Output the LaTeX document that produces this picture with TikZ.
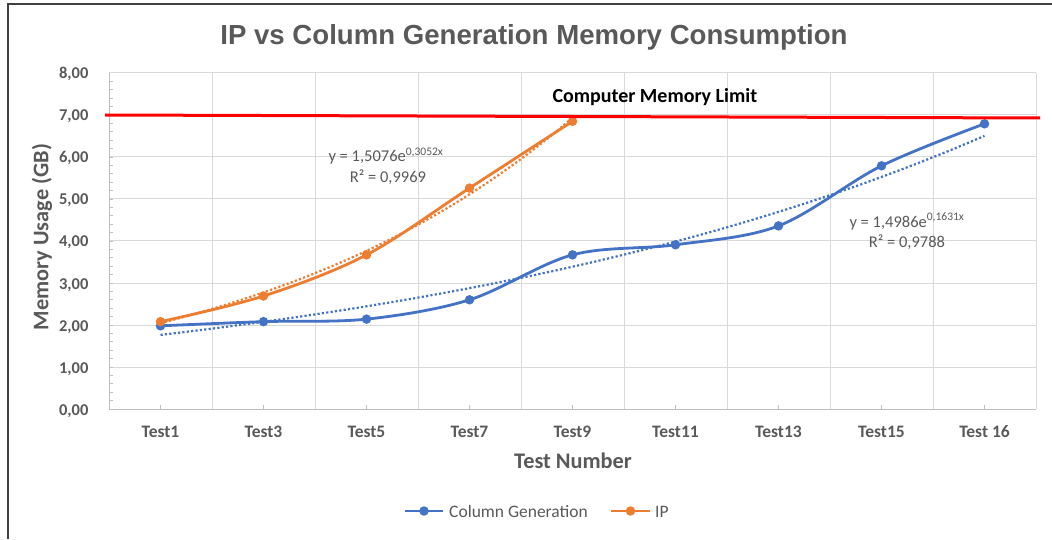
\documentclass[tikz,border=0pt]{standalone}
\usepackage{fontspec}
\usetikzlibrary{calc}
\setmainfont{Carlito}
\newfontfamily\titlefont{Liberation Sans}
\definecolor{cgblue}{HTML}{4472C4}
\definecolor{iporange}{HTML}{ED7D31}
\definecolor{txtgray}{HTML}{595959}
\definecolor{gridgray}{HTML}{D9D9D9}
\definecolor{axisgray}{HTML}{BFBFBF}
\definecolor{framegray}{HTML}{404040}
\definecolor{limitred}{HTML}{FF0000}
\tikzset{
    gridline/.style={draw=gridgray, line width=1pt},
    axisline/.style={draw=axisgray, line width=1pt},
    dataline/.style={line width=2.8pt, line join=round},
    trendline/.style={line width=2.2pt, dash pattern=on 2.2pt off 2.2pt},
    datamark/.style={circle, fill, inner sep=0pt, minimum size=9.5pt},
    titletext/.style={anchor=base, text=txtgray, font=\titlefont\bfseries\fontsize{27.6}{30}\selectfont},
    axistitle/.style={text=txtgray, font=\bfseries\fontsize{22.3}{24}\selectfont},
    yticktext/.style={anchor=base east, text=txtgray, font=\bfseries\fontsize{16.5}{18}\selectfont},
    xticktext/.style={anchor=base, text=txtgray, font=\bfseries\fontsize{17.5}{20}\selectfont},
    eqtext/.style={anchor=base, text=txtgray, font=\fontsize{16.5}{18}\selectfont},
    legendtext/.style={anchor=base west, text=txtgray, font=\fontsize{17.5}{20}\selectfont, inner sep=0pt}
}
\begin{document}
\begin{tikzpicture}[x=1pt, y=1pt]
    \useasboundingbox (0,0) rectangle (1052,539);
    \pgfmathsetmacro{\plotx}{109} % left edge of the plot area
    \pgfmathsetmacro{\ploty}{130} % value 0,00
    \pgfmathsetmacro{\catw}{103}  % width of one test
    \pgfmathsetmacro{\unith}{42}  % height of 1 GB

    % chart frame
    \draw[framegray, line width=1.6pt] (8,0) -- (8,535) -- (1052,535);

    \node[titletext] (title) at (534,494) {IP vs Column Generation Memory Consumption};

    \begin{scope}[shift={(\plotx pt,\ploty pt)}, x=\catw pt, y=\unith pt]
        % grid and axes
        \foreach \g in {1,...,8}
            \draw[gridline] (0,\g) -- (9,\g);
        \foreach \c in {1,...,9}
            \draw[gridline] (\c,0) -- (\c,8);
        \draw[axisline] (0,8) -- (0,0) -- (9,0);
        \foreach \m in {0.2,0.4,...,7.9}
            \draw[axisline] (0,\m) -- ++(4pt,0);
        \foreach \c in {0.5,1.5,...,8.5}
            \draw[axisline] (\c,0) -- ++(0,4pt);

        \foreach \g in {0,...,8}
            \node[yticktext, xshift=-17pt, yshift=-6pt] (ytick\g) at (0,\g) {\g,00};
        \foreach \c/\t in {1/Test1, 2/Test3, 3/Test5, 4/Test7, 5/Test9,
                           6/Test11, 7/Test13, 8/Test15, 9/Test 16}
            \node[xticktext, yshift=-28pt] (xtick\c) at (\c-0.5,0) {\t};

        % measured points
        \foreach \c/\v in {1/1.98, 2/2.08, 3/2.14, 4/2.60, 5/3.67,
                           6/3.91, 7/4.36, 8/5.79, 9/6.79}
            \coordinate (cg\c) at (\c-0.5,\v);
        \foreach \c/\v in {1/2.08, 2/2.69, 3/3.67, 4/5.26, 5/6.85}
            \coordinate (ip\c) at (\c-0.5,\v);

        % exponential trend lines
        \draw[trendline, cgblue] plot[domain=1:9, samples=60]
            ({\x-0.5},{1.4986*exp(0.1631*\x)});
        \draw[trendline, iporange] plot[domain=1:5, samples=40]
            ({\x-0.5},{1.5076*exp(0.3052*\x)});

        \draw[dataline, cgblue] plot[smooth, tension=0.55]
            coordinates {(cg1) (cg2) (cg3) (cg4) (cg5) (cg6) (cg7) (cg8) (cg9)};
        \draw[dataline, iporange] plot[smooth, tension=0.55]
            coordinates {(ip1) (ip2) (ip3) (ip4) (ip5)};
        \foreach \c in {1,...,9}
            \node[datamark, cgblue] (cgmark\c) at (cg\c) {};
        \foreach \c in {1,...,5}
            \node[datamark, iporange] (ipmark\c) at (ip\c) {};
    \end{scope}

    % memory limit
    \coordinate (limitL) at (105,424);
    \coordinate (limitR) at (1040,421);
    \draw[limitred, line width=3pt] (limitL) -- (limitR);
    \node[anchor=base west, font=\bfseries\fontsize{20}{22}\selectfont] (limit) at (549,436) {Computer Memory Limit};

    \node[eqtext] (ipeq) at (386,377) {y = 1,5076e\textsuperscript{0,3052x}};
    \node[eqtext] (iprsq) at (388,356) {R² = 0,9969};
    \node[eqtext] (cgeq) at (907,312) {y = 1,4986e\textsuperscript{0,1631x}};
    \node[eqtext] (cgrsq) at (907,291) {R² = 0,9788};

    \node[axistitle, anchor=base] (xtitle) at (573,71) {Test Number};
    \node[axistitle, rotate=90] (ytitle) at (42,302) {Memory Usage (GB)};

    % legend
    \coordinate (cgkeyL) at (405,28);
    \coordinate (cgkeyR) at (443,28);
    \coordinate (ipkeyL) at (611,28);
    \coordinate (ipkeyR) at (650,28);
    \draw[dataline, cgblue] (cgkeyL) -- (cgkeyR);
    \node[datamark, cgblue] (cgkey) at ($(cgkeyL)!0.5!(cgkeyR)$) {};
    \draw[dataline, iporange] (ipkeyL) -- (ipkeyR);
    \node[datamark, iporange] (ipkey) at ($(ipkeyL)!0.5!(ipkeyR)$) {};
    \node[legendtext] (cglabel) at (449,22) {Column Generation};
    \node[legendtext] (iplabel) at (655,22) {IP};
\end{tikzpicture}
\end{document}
